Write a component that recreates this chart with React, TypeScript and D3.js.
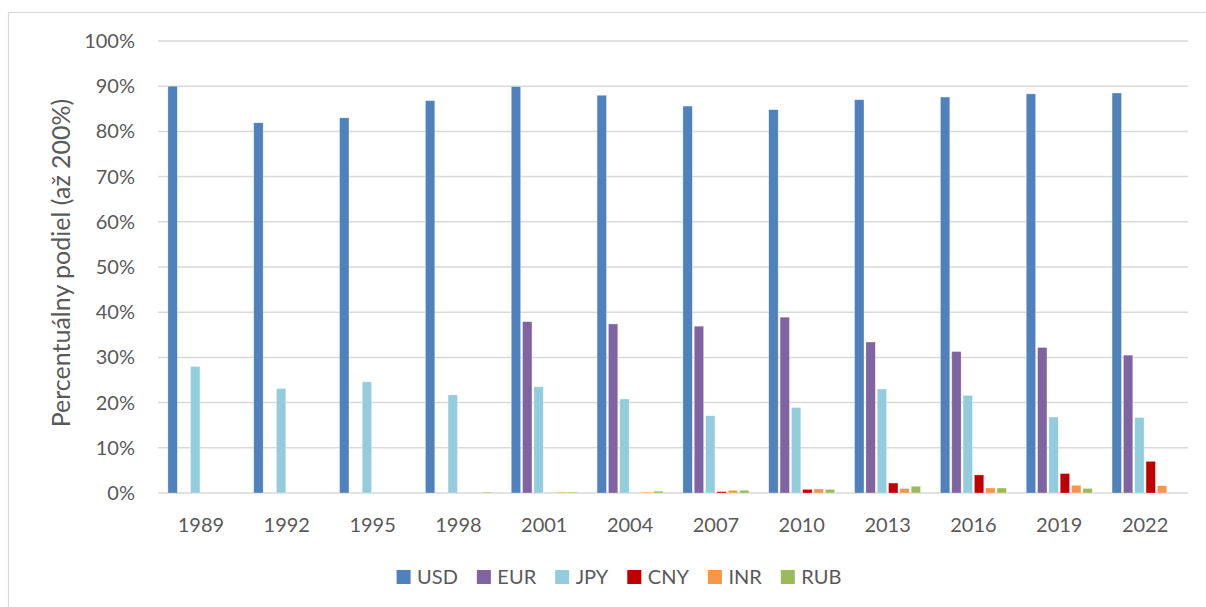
import React, { useMemo } from 'react';
import * as d3 from 'd3';

const years = ['1989', '1992', '1995', '1998', '2001', '2004', '2007', '2010', '2013', '2016', '2019', '2022'];
const currencies = ['USD', 'EUR', 'JPY', 'CNY', 'INR', 'RUB'];
const colors = ['#4F81BD', '#8064A2', '#93CDDD', '#C00000', '#F79646', '#9BBB59'];

// share in % (sums to 200%)
const usd = [90.0, 81.9, 83.0, 86.8, 89.9, 88.0, 85.6, 84.8, 87.0, 87.6, 88.3, 88.5];
const eur = [0, 0, 0, 0, 37.9, 37.4, 36.9, 38.9, 33.4, 31.3, 32.2, 30.5];
const jpy = [28.0, 23.1, 24.6, 21.7, 23.5, 20.8, 17.1, 18.9, 23.0, 21.6, 16.8, 16.7];
const cny = [0, 0, 0, 0, 0, 0, 0.3, 0.8, 2.2, 4.0, 4.3, 7.0];
const inr = [0, 0, 0, 0, 0.2, 0.2, 0.6, 0.9, 1.0, 1.1, 1.7, 1.6];
const rub = [0, 0, 0, 0.2, 0.2, 0.4, 0.6, 0.8, 1.5, 1.1, 1.0, 0];

const yTicks = [0, 10, 20, 30, 40, 50, 60, 70, 80, 90, 100];

const seriesValues = [usd, eur, jpy, cny, inr, rub];

const FONT = 'Lato, "Open Sans", sans-serif';
const TEXT = '#595959';
const GRID = '#D9D9D9';

const W = 1206;
const H = 607;
const plot = { left: 158, right: 1188, top: 41, bottom: 493 };

const measure = (s: string, size: number) => {
  const c = document.createElement('canvas').getContext('2d');
  if (!c) return s.length * size * 0.6;
  c.font = `${size}px Lato`;
  return c.measureText(s).width;
};

export default function App() {
  const x = d3.scaleBand<string>().domain(years).range([plot.left, plot.right]).padding(0);
  const xs = d3.scaleBand<string>().domain(currencies).range([-33, 33]).paddingInner(0.17);
  const y = d3.scaleLinear().domain([0, 100]).range([plot.bottom, plot.top]);

  const legend = useMemo(() => {
    const sq = 14;
    const gapText = 6.5;
    const gapItem = 19;
    const widths = currencies.map(c => sq + gapText + measure(c, 20));
    const total = d3.sum(widths) + gapItem * (currencies.length - 1);
    let cx = 619 - total / 2;
    return currencies.map((c, i) => {
      const item = { name: c, x: cx, color: colors[i] };
      cx += widths[i] + gapItem;
      return item;
    });
  }, []);

  return (
    <svg
      width={W}
      height={H}
      style={{ position: 'absolute', left: 0, top: 0, fontFamily: FONT }}
    >
      <rect x={0} y={0} width={W} height={H} fill="#fff" />
      {/* chart frame */}
      <rect x={8.5} y={12.5} width={W + 20} height={H + 20} fill="none" stroke={GRID} strokeWidth={1.2} />

      {/* grid lines */}
      {yTicks.map(t => (
        <line key={`g-${t}`} x1={plot.left} x2={plot.right} y1={y(t)} y2={y(t)} stroke={GRID} strokeWidth={1.5} />
      ))}

      {/* bars */}
      {years.map((yr, i) => (
        <g key={yr} transform={`translate(${(x(yr) ?? 0) + x.bandwidth() / 2},0)`}>
          {currencies.map((c, j) => {
            const v = seriesValues[j][i];
            if (!v) return null;
            return (
              <rect
                key={c}
                x={xs(c)}
                y={y(v)}
                width={xs.bandwidth()}
                height={y(0) - y(v)}
                fill={colors[j]}
                stroke="#fff"
                strokeOpacity={0.5}
                strokeWidth={0.6}
              />
            );
          })}
        </g>
      ))}

      {/* y tick labels */}
      {yTicks.map(t => (
        <text key={`yl-${t}`} x={135} y={y(t)} dy="0.35em" textAnchor="end" fill={TEXT} fontSize={20}>
          {`${t}%`}
        </text>
      ))}

      {/* x labels */}
      {years.map(yr => (
        <text key={`xl-${yr}`} x={(x(yr) ?? 0) + x.bandwidth() / 2} y={532} textAnchor="middle" fill={TEXT} fontSize={20}>
          {yr}
        </text>
      ))}

      {/* y axis title */}
      <text
        transform={`translate(61, 263) rotate(-90)`}
        textAnchor="middle"
        dy="0.35em"
        fill={TEXT}
        fontSize={25}
      >
        Percentuálny podiel (až 200%)
      </text>

      {/* legend */}
      {legend.map(l => (
        <g key={l.name} transform={`translate(${l.x}, 577)`}>
          <rect x={0} y={-7} width={14} height={14} fill={l.color} />
          <text x={20.5} dy="0.35em" fill={TEXT} fontSize={20}>{l.name}</text>
        </g>
      ))}
    </svg>
  );
}
